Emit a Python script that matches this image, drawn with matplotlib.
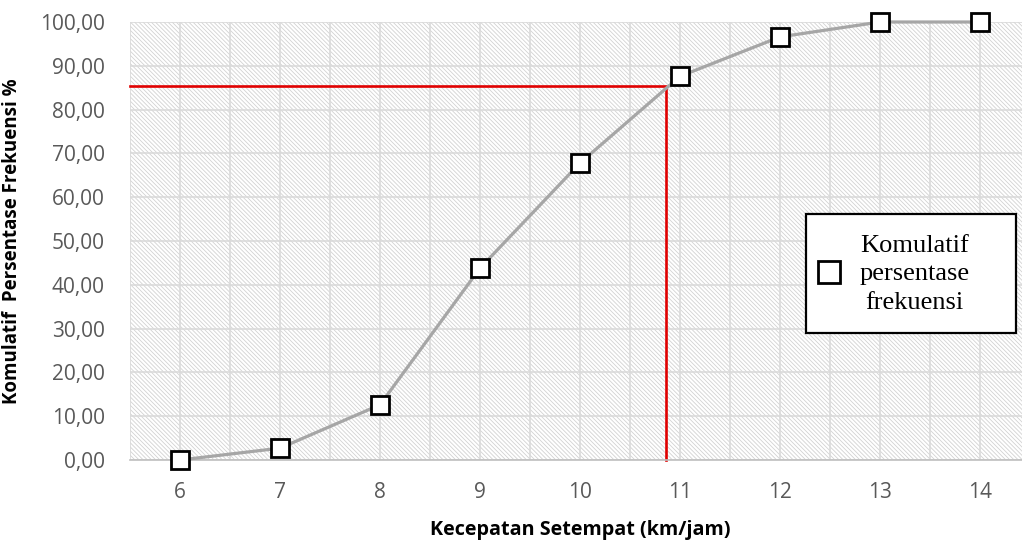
import numpy as np
import matplotlib
matplotlib.use("Agg")
import matplotlib.pyplot as plt
from matplotlib.patches import Rectangle
from matplotlib.ticker import FuncFormatter

# kecepatan setempat (km/jam) dan komulatif persentase frekuensi (%)
kecepatan = [6, 7, 8, 9, 10, 11, 12, 13, 14]
komulatif = [0.0, 2.7, 12.6, 43.8, 67.8, 87.6, 96.6, 100.0, 100.0]

# persentil 85
p85 = 85.4
v85 = 10.86

plt.rcParams['font.family'] = ['Open Sans', 'DejaVu Sans']
plt.rcParams['hatch.linewidth'] = 0.6

fig = plt.figure(figsize=(10.22, 5.42), dpi=100)
ax = fig.add_axes([130 / 1022, 82 / 542, 900 / 1022, 438 / 542])

# background arsir diagonal
ax.patch.set_facecolor('white')
ax.add_patch(Rectangle((0, 0), 1, 1, transform=ax.transAxes, facecolor='white',
                       edgecolor='#d2d2d2', hatch='\\' * 8, linewidth=0, zorder=0))

ax.set_xlim(5.5, 14.5)
ax.set_ylim(0, 100)
ax.set_xticks(kecepatan)
ax.set_xticks(np.arange(5.5, 15, 1.0), minor=True)
ax.set_yticks(np.arange(0, 101, 10))
ax.yaxis.set_major_formatter(FuncFormatter(lambda v, p: f"{v:.2f}".replace('.', ',')))

ax.set_axisbelow(True)
ax.grid(True, which='both', axis='x', color='#dadada', linewidth=1.2)
ax.grid(True, which='major', axis='y', color='#dadada', linewidth=1.2)

for s in ['top', 'right', 'left']:
    ax.spines[s].set_visible(False)
ax.spines['bottom'].set_color('#bfbfbf')
ax.spines['bottom'].set_linewidth(1.2)

ax.tick_params(axis='both', which='both', length=0, labelsize=15, labelcolor='#595959')
ax.tick_params(axis='x', pad=16)
ax.tick_params(axis='y', pad=18)

# garis persentil 85
ax.plot([5.5, v85, v85], [p85, p85, 0], color='#e00000', linewidth=1.9, zorder=2, clip_on=False)

ax.plot(kecepatan, komulatif, color='#a6a6a6', linewidth=2.3, marker='s', markersize=13,
        markerfacecolor='white', markeredgecolor='black', markeredgewidth=2, zorder=3, clip_on=False)

ax.set_xlabel('Kecepatan Setempat (km/jam)', fontsize=14.2, fontweight='bold', labelpad=12)
ax.set_ylabel('Komulatif  Persentase Frekuensi %', fontsize=13.5, fontweight='bold', labelpad=13)

# kotak keterangan
ax.add_patch(Rectangle((0.751, 0.290), 0.2333, 0.2716, transform=ax.transAxes, facecolor='white',
                       edgecolor='black', linewidth=1.6, zorder=5))
ax.plot([0.7767], [0.429], transform=ax.transAxes, linestyle='none', marker='s', markersize=16.5,
        markerfacecolor='white', markeredgecolor='black', markeredgewidth=2, zorder=6, clip_on=False)
ax.text(0.872, 0.424, 'Komulatif\npersentase\nfrekuensi', transform=ax.transAxes,
        ha='center', va='center', multialignment='center', linespacing=1.38,
        family='Liberation Serif', fontsize=19, zorder=6)

fig.savefig('out.png', dpi=100)
